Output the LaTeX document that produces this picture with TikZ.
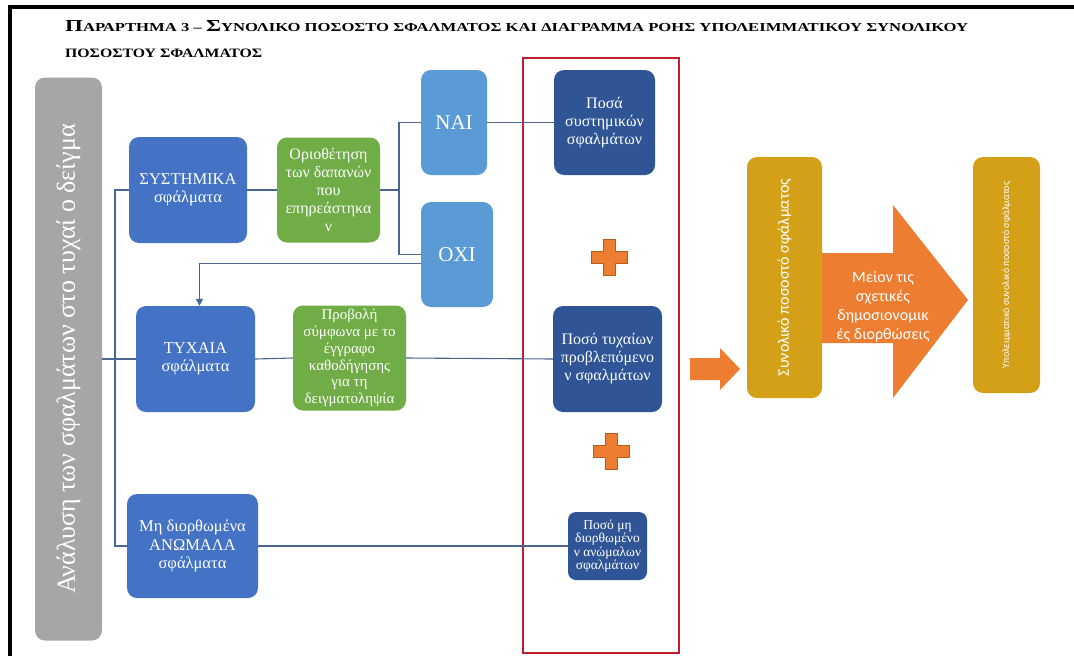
\documentclass[tikz,border=0pt]{standalone}
\usepackage{fontspec}
\setmainfont{Liberation Serif}
\newfontfamily\calib{Carlito}
\usetikzlibrary{arrows.meta,calc}
\definecolor{cgray}{HTML}{A6A6A6}
\definecolor{cblue}{HTML}{4472C4}
\definecolor{cgreen}{HTML}{70AD47}
\definecolor{clight}{HTML}{5B9BD5}
\definecolor{cdark}{HTML}{2F5597}
\definecolor{corange}{HTML}{ED7D31}
\definecolor{corangedk}{HTML}{B85B1E}
\definecolor{cgold}{HTML}{D4A017}
\definecolor{cred}{HTML}{C0202E}
\definecolor{cline}{HTML}{4A6690}
\begin{document}
\begin{tikzpicture}[x=1pt,y=-1pt,
  rbox/.style={rounded corners=10pt, inner sep=2pt, align=center, text=white, font=\fontsize{16.5}{18.5}\selectfont},
  bluebox/.style={rbox, fill=cblue},
  greenbox/.style={rbox, fill=cgreen},
  lightbox/.style={rbox, fill=clight, font=\fontsize{21}{24}\selectfont},
  darkbox/.style={rbox, fill=cdark},
  goldbox/.style={rbox, fill=cgold, rotate=90, font=\calib\fontsize{16}{19}\selectfont},
  conn/.style={draw=cline, line width=1.1pt},
  plusst/.style={fill=corange, draw=corangedk, line width=0.8pt},
  bigarrow/.style={fill=corange}]
\useasboundingbox (0,0) rectangle (1074,656);
\fill[white] (0,0) rectangle (1074,656);
% frame
\draw[line width=3.5pt, black] (10,656) -- (10,7) -- (1074,7);
% title
\node[anchor=base west, inner sep=0pt] (t1) at (65,31) {\resizebox{903pt}{11pt}{\bfseries\fontsize{10}{10}\selectfont{\fontsize{13.75}{14}\selectfont Π}ΑΡΑΡΤΗΜΑ 3 – {\fontsize{13.75}{14}\selectfont Σ}ΥΝΟΛΙΚΟ ΠΟΣΟΣΤΟ ΣΦΑΛΜΑΤΟΣ ΚΑΙ ΔΙΑΓΡΑΜΜΑ ΡΟΗΣ ΥΠΟΛΕΙΜΜΑΤΙΚΟΥ ΣΥΝΟΛΙΚΟΥ}};
\node[anchor=base west, inner sep=0pt] (t2) at (65,57) {\resizebox{197pt}{8.5pt}{\bfseries ΠΟΣΟΣΤΟΥ ΣΦΑΛΜΑΤΟΣ}};
% red frame
\draw[cred, line width=1.3pt] (523,58) rectangle (679,653);
% gray box
\node[rbox, fill=cgray, rotate=90, minimum width=563pt, minimum height=67pt, font=\fontsize{26}{30}\selectfont] (gray) at (68.5,359) {Ανάλυση των σφαλμάτων στο τυχαί ο δείγμα};
% left column
\node[bluebox, minimum width=118pt, minimum height=106pt] (sys) at (188,190) {ΣΥΣΤΗΜΙΚΑ\\σφάλματα};
\node[bluebox, minimum width=119pt, minimum height=106pt] (tyx) at (195.5,359) {ΤΥΧΑΙΑ\\σφάλματα};
\node[bluebox, minimum width=131pt, minimum height=104pt] (an) at (192.5,546) {Μη διορθωμένα\\ΑΝΩΜΑΛΑ\\σφάλματα};
% green boxes
\node[greenbox, minimum width=103pt, minimum height=105pt, font=\fontsize{16}{18}\selectfont] (g1) at (328.5,190) {Οριοθέτηση\\των δαπανών\\που\\επηρεάστηκα\\ν};
\node[greenbox, minimum width=113pt, minimum height=105pt, font=\fontsize{15}{16.8}\selectfont] (g2) at (349.5,358) {Προβολή\\σύμφωνα με το\\έγγραφο\\καθοδήγησης\\για τη\\δειγματοληψία};
% yes / no
\node[lightbox, minimum width=66pt, minimum height=105pt] (nai) at (454,122.5) {ΝΑΙ};
\node[lightbox, minimum width=72pt, minimum height=105pt] (oxi) at (457,254.5) {ΟΧΙ};
% dark boxes
\node[darkbox, minimum width=101pt, minimum height=105pt, font=\fontsize{16}{18}\selectfont] (d1) at (604.5,122.5) {Ποσά\\συστημικών\\σφαλμάτων};
\node[darkbox, minimum width=109pt, minimum height=106pt, font=\fontsize{16}{18}\selectfont] (d2) at (607.5,359) {Ποσό τυχαίων\\προβλεπόμενο\\ν σφαλμάτων};
\node[darkbox, rounded corners=8pt, minimum width=79pt, minimum height=68pt, font=\fontsize{13.5}{13.5}\selectfont] (d3) at (607.5,546) {Ποσό μη\\διορθωμένο\\ν ανώμαλων\\σφαλμάτων};
% plus signs
\draw[plusst, shift={(609,257)}] (-6,-18) -- (6,-18) -- (6,-6) -- (18,-6) -- (18,6) -- (6,6) -- (6,18) -- (-6,18) -- (-6,6) -- (-18,6) -- (-18,-6) -- (-6,-6) -- cycle;
\draw[plusst, shift={(611,451)}] (-6,-18) -- (6,-18) -- (6,-6) -- (18,-6) -- (18,6) -- (6,6) -- (6,18) -- (-6,18) -- (-6,6) -- (-18,6) -- (-18,-6) -- (-6,-6) -- cycle;
% small arrow
\fill[corange] (690,358) -- (720,358) -- (720,348) -- (740,369) -- (720,390) -- (720,380) -- (690,380) -- cycle;
% gold boxes
\node[goldbox, minimum width=241pt, minimum height=75pt] (gold1) at (784.5,277.5) {Συνολικό ποσοστό σφάλματος};
\node[goldbox, minimum width=236pt, minimum height=67pt, font=\calib\fontsize{10}{12}\selectfont] (gold2) at (1006.5,275) {Υπολειμματικό συνολικό ποσοστό σφάλματος};
% big arrow
\fill[bigarrow] (822,253) -- (893,253) -- (893,205) -- (968,300) -- (893,398) -- (893,343) -- (822,343) -- cycle;
\node[align=center, text=white, font=\calib\fontsize{16}{19}\selectfont] (minus) at (883,307) {Μείον τις\\σχετικές\\δημοσιονομικ\\ές διορθώσεις};
% connectors
\coordinate (tr1) at (115,190);
\coordinate (tr3) at (115,546);
\draw[conn] (sys.west) -- (tr1) -- (tr3) -- (an.west);
\draw[conn] (gray.south |- tyx.west) -- (tyx.west);
\draw[conn] (sys.east) -- (g1.west);
\coordinate (sp) at (399,190);
\draw[conn] (g1.east) -- (sp);
\draw[conn] (nai.west) -| (sp) |- (oxi.west);
\draw[conn] (nai.east) -- (d1.west);
\draw[conn, -{Triangle[length=7pt,width=7pt]}] ($(oxi.west)+(0,9)$) -| ([xshift=4pt]tyx.north);
\draw[conn] (tyx.east) -- (g2.west);
\draw[conn] (g2.east) -- (d2.west);
\draw[conn] (an.east) -- (d3.west);
\end{tikzpicture}
\end{document}
